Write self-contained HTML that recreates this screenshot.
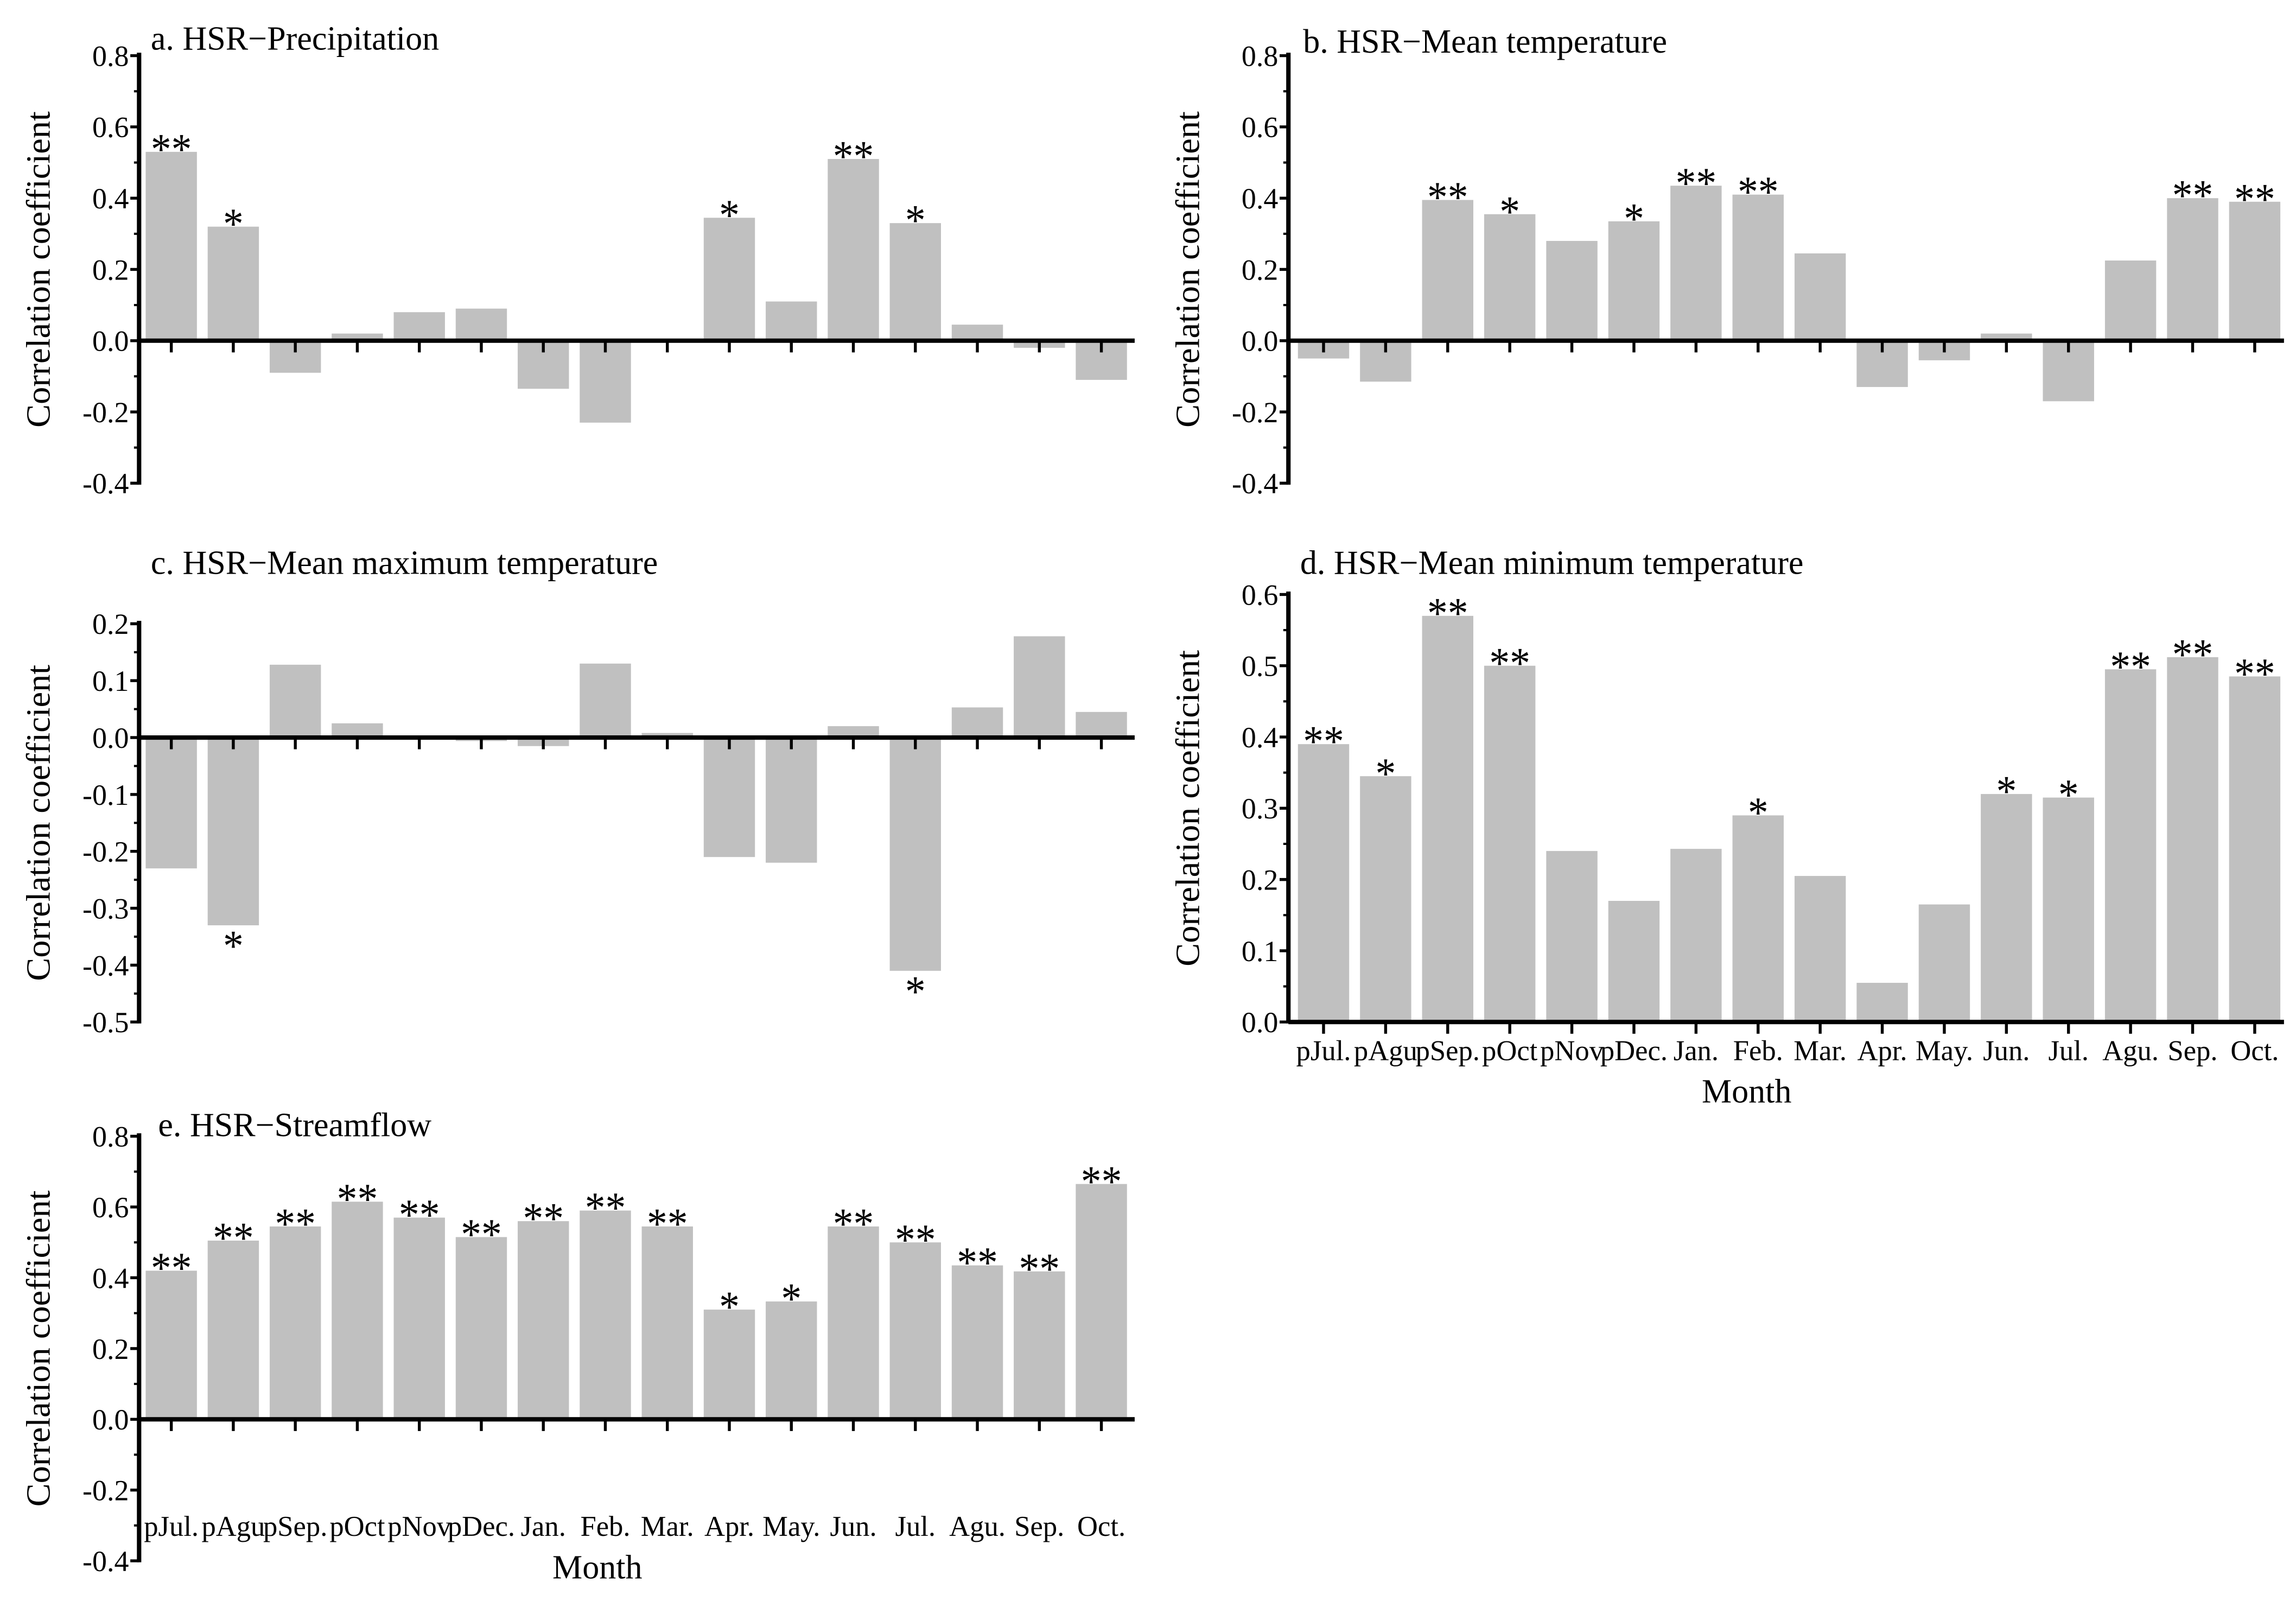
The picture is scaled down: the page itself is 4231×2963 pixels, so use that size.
<!DOCTYPE html>
<html><head><meta charset="utf-8"><style>
html,body{margin:0;padding:0;background:#fff;}
svg{display:block;}
text{font-family:"Liberation Serif",serif;fill:#000;}
</style></head>
<body>
<svg id="fig" width="4231" height="2963" viewBox="0 0 1568.2 1098.2" xmlns="http://www.w3.org/2000/svg"></svg>
<script>
const months = ["pJul.","pAgu","pSep.","pOct","pNov","pDec.","Jan.","Feb.","Mar.","Apr.","May.","Jun.","Jul.","Agu.","Sep.","Oct."];
const valsA = [0.53,0.32,-0.09,0.02,0.08,0.09,-0.135,-0.23,0.005,0.345,0.11,0.51,0.33,0.045,-0.02,-0.11];
const starsA = ["**","*","","","","","","","","*","","**","*","","",""];
const valsB = [-0.05,-0.115,0.395,0.355,0.28,0.335,0.435,0.41,0.245,-0.13,-0.055,0.02,-0.17,0.225,0.40,0.39];
const starsB = ["","","**","*","","*","**","**","","","","","","","**","**"];
const valsC = [-0.23,-0.33,0.128,0.025,0,-0.006,-0.015,0.13,0.008,-0.21,-0.22,0.02,-0.41,0.053,0.178,0.045];
const starsC = ["","*","","","","","","","","","","","*","","",""];
const valsD = [0.39,0.345,0.57,0.50,0.24,0.17,0.243,0.29,0.205,0.055,0.165,0.32,0.315,0.495,0.512,0.485];
const starsD = ["**","*","**","**","","","","*","","","","*","*","**","**","**"];
const valsE = [0.42,0.505,0.545,0.615,0.57,0.515,0.56,0.59,0.545,0.31,0.333,0.545,0.50,0.435,0.418,0.665];
const starsE = ["**","**","**","**","**","**","**","**","**","*","*","**","**","**","**","**"];
const ticksAB = [0.8,0.6,0.4,0.2,0.0,-0.2,-0.4];
const ticksC = [0.2,0.1,0.0,-0.1,-0.2,-0.3,-0.4,-0.5];
const ticksD = [0.6,0.5,0.4,0.3,0.2,0.1,0.0];

const NS="http://www.w3.org/2000/svg";
const svg=document.getElementById('fig');
function mk(tag,attrs,parent){const e=document.createElementNS(NS,tag);for(const k in attrs)e.setAttribute(k,attrs[k]);(parent||svg).appendChild(e);return e;}

function panel(id,title,vals,stars,ticks,dec,geo){
  const g=mk('g',{});
  
  
  const y=v=>geo.yTop+(geo.vMax-v)/(geo.vMax-geo.vMin)*(geo.yBot-geo.yTop);
  const xc=i=>geo.first+i*geo.step;
  const y0=y(0);
  vals.forEach((v,i)=>{
    const r=mk('rect',{x:xc(i)-17.5,y:Math.min(y(v),y0),width:35,height:Math.max(Math.abs(y(v)-y0),0.6),fill:'#c0c0c0'},g);
    
    
    if(stars[i]){
      const t=mk('text',{x:xc(i),y:v>=0?y(v)+8:y(v)+24,'font-size':30,'text-anchor':'middle',textLength:stars[i].length*14,lengthAdjust:'spacingAndGlyphs'},g);
      t.textContent=stars[i];
      
      
    }
  });
  const ya=mk('line',{x1:geo.x0,x2:geo.x0,y1:geo.yTop-2,y2:geo.yBot+1,stroke:'#000','stroke-width':3},g);
  
  
  ticks.forEach((t,k)=>{
    const ty=y(t);
    mk('line',{x1:geo.x0-6,x2:geo.x0,y1:ty,y2:ty,stroke:'#000','stroke-width':2},g);
    if(k<ticks.length-1){const my=y(t-(ticks[0]-ticks[1])/2);mk('line',{x1:geo.x0-3.5,x2:geo.x0,y1:my,y2:my,stroke:'#000','stroke-width':1.5},g);}
    const lb=mk('text',{x:geo.x0-7,y:ty+7,'font-size':20,'text-anchor':'end'},g);
    lb.textContent=t.toFixed(dec);
    
    
  });
  const za=mk('line',{x1:geo.x0,x2:geo.x1,y1:y0,y2:y0,stroke:'#000','stroke-width':3},g);
  
  
  months.forEach((m,i)=>{
    mk('line',{x1:xc(i),x2:xc(i),y1:y0,y2:y0+8,stroke:'#000','stroke-width':2},g);
    if(geo.labY){
      const lb=mk('text',{x:xc(i),y:geo.labY,'font-size':19.5,'text-anchor':'middle'},g);
      lb.textContent=m;
      
      
    }
  });
  if(geo.labY){
    const mt=mk('text',{x:(geo.x0+geo.x1)/2-27,y:geo.labY+29,'font-size':23,'text-anchor':'middle'},g);
    mt.textContent='Month';
    
    
  }
  const tt=mk('text',{x:geo.tx,y:geo.ty,'font-size':23},g);
  tt.textContent=title;
  
  
  const yc=(geo.yTop+geo.yBot)/2;
  const yt=mk('text',{x:0,y:0,'font-size':23,'text-anchor':'middle',transform:`translate(${geo.x0-61},${yc}) rotate(-90)`,textLength:216,lengthAdjust:'spacingAndGlyphs'},g);
  yt.textContent='Correlation coefficient';
  
  
}
panel('a','a. HSR\u2212Precipitation',valsA,starsA,ticksAB,1,{x0:95,x1:775,first:117,step:42.35,yTop:38,yBot:330,vMax:0.8,vMin:-0.4,tx:103,ty:34});
panel('b','b. HSR\u2212Mean temperature',valsB,starsB,ticksAB,1,{x0:880,x1:1560,first:904,step:42.4,yTop:38,yBot:330,vMax:0.8,vMin:-0.4,tx:890,ty:36});
panel('c','c. HSR\u2212Mean maximum temperature',valsC,starsC,ticksC,1,{x0:95,x1:775,first:117,step:42.35,yTop:426,yBot:698,vMax:0.2,vMin:-0.5,tx:103,ty:392});
panel('d','d. HSR\u2212Mean minimum temperature',valsD,starsD,ticksD,1,{x0:880,x1:1560,first:904,step:42.4,yTop:406,yBot:698,vMax:0.6,vMin:0.0,tx:888,ty:392,labY:724});
panel('e','e. HSR\u2212Streamflow',valsE,starsE,ticksAB,1,{x0:95,x1:775,first:117,step:42.35,yTop:776,yBot:1066,vMax:0.8,vMin:-0.4,tx:108,ty:776,labY:1049});
</script>
</body></html>
